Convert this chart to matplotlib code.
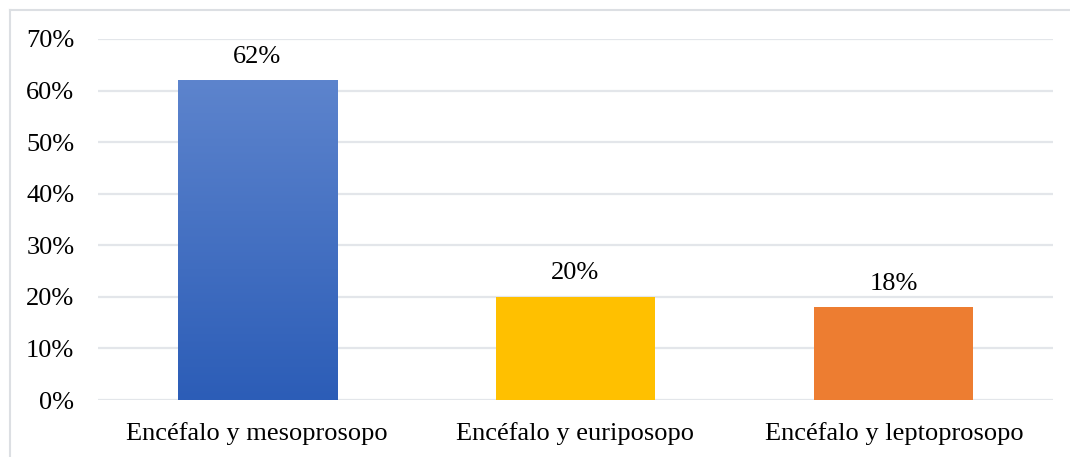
import matplotlib.pyplot as plt
import numpy as np
from matplotlib.colors import LinearSegmentedColormap
from matplotlib.lines import Line2D

categories = ["Encéfalo y mesoprosopo", "Encéfalo y euriposopo", "Encéfalo y leptoprosopo"]
values = [0.62, 0.20, 0.18]
labels = ["62%", "20%", "18%"]
colors = ["#3F6CC6", "#FFC000", "#ED7D31"]
yticks = [0, 0.1, 0.2, 0.3, 0.4, 0.5, 0.6, 0.7]

plt.rcParams["font.family"] = ["Liberation Serif", "DejaVu Serif"]

fig = plt.figure(figsize=(10.70, 4.57), dpi=100)
ax = fig.add_axes([0.0916, 0.1247, 0.8925, 0.79])

x = np.arange(len(categories))
bars = ax.bar(x, values, width=0.5, color=colors, zorder=2)

# gradient on first bar (light top -> darker bottom)
b0 = bars[0]
grad = np.linspace(0, 1, 256).reshape(-1, 1)
cmap = LinearSegmentedColormap.from_list("bl", ["#2C5DB7", "#5D84CD"])
ax.imshow(grad, cmap=cmap, aspect="auto", origin="lower", zorder=3,
          extent=(b0.get_x(), b0.get_x() + b0.get_width(), 0, b0.get_height()))
b0.set_alpha(0)

for xi, v, lab in zip(x, values, labels):
    ax.text(xi, v + 0.024, lab, ha="center", va="bottom", fontsize=19)

ax.set_xlim(-0.5, len(categories) - 0.5)
ax.set_ylim(0, 0.7)
ax.set_yticks(yticks)
ax.set_yticklabels([f"{int(round(t * 100))}%" for t in yticks], fontsize=19)
ax.set_xticks(x)
ax.set_xticklabels(categories, fontsize=19)
ax.tick_params(length=0)
ax.tick_params(axis="x", pad=16)
ax.tick_params(axis="y", pad=17)
ax.yaxis.grid(True, color="#E3E6EA", linewidth=1.6, zorder=0)
ax.set_axisbelow(True)
for s in ax.spines.values():
    s.set_visible(False)

# chart frame: only top and left edges visible (image is cropped)
bx, by = 9.5 / 1070, 1 - 9.5 / 457
fig.add_artist(Line2D([bx, 1], [by, by], transform=fig.transFigure,
                      color="#DCDFE3", linewidth=1.5))
fig.add_artist(Line2D([bx, bx], [0, by], transform=fig.transFigure,
                      color="#DCDFE3", linewidth=1.5))

fig.savefig("out.png", dpi=100)
